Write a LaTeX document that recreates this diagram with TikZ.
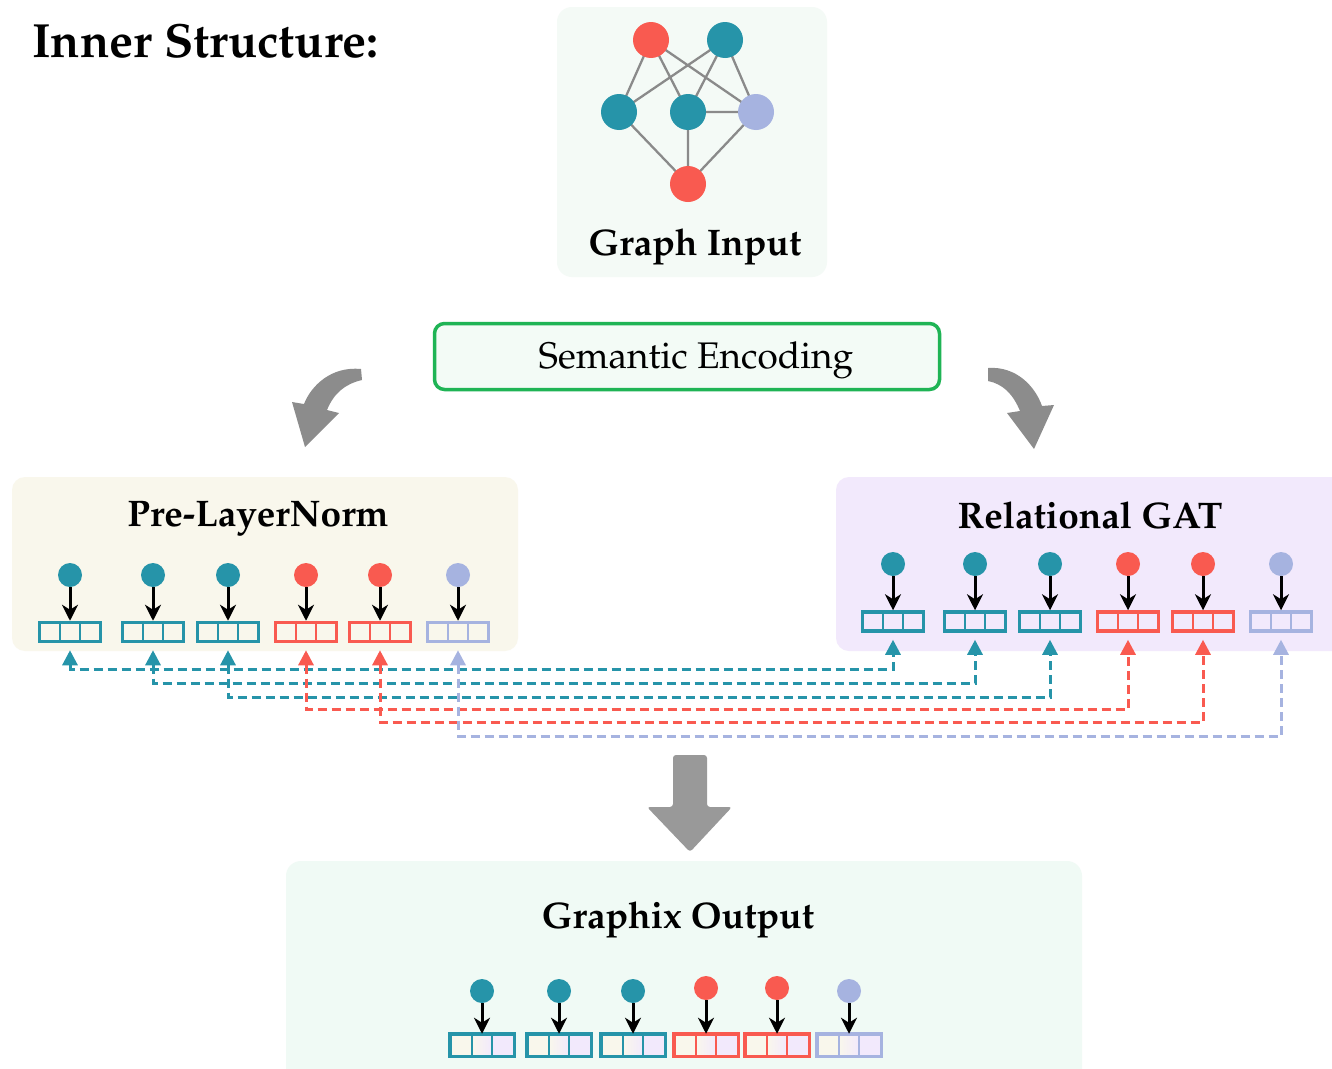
\documentclass[tikz,border=0pt]{standalone}
\usepackage[T1]{fontenc}
\usepackage{mathpazo}
\usetikzlibrary{arrows.meta}
\definecolor{cTeal}{HTML}{2694A9}
\definecolor{cRed}{HTML}{F95A50}
\definecolor{cLav}{HTML}{A6B3E0}
\definecolor{cEdge}{HTML}{8A8A8A}
\definecolor{cGraphFill}{HTML}{F4FAF6}
\definecolor{cSemFill}{HTML}{F3FBF6}
\definecolor{cGreen}{HTML}{1FB455}
\definecolor{cCream}{HTML}{F9F7EC}
\definecolor{cPurp}{HTML}{F2E9FC}
\definecolor{cOutFill}{HTML}{F0FAF5}
\definecolor{cGrayC}{HTML}{8C8C8C}
\definecolor{cGrayB}{HTML}{999999}
\newcommand\fsz[1]{\fontsize{#1}{#1}\selectfont}
\tikzset{
 dot/.style={circle, inner sep=0pt, minimum size=24pt},
 gdot/.style={circle, inner sep=0pt, minimum size=36pt},
 tbox/.style={rectangle, inner sep=0pt, minimum width=61pt, minimum height=19pt, line width=3.5pt},
 blk/.style={draw=black, line width=3pt, -{Stealth[length=16pt,width=16pt,inset=5pt]}},
 dsh/.style={line width=3pt, dash pattern=on 9pt off 5pt, {Triangle[length=15pt,width=15pt]}-{Triangle[length=15pt,width=15pt]}},
 gedge/.style={draw=cEdge, line width=2.3pt},
 ttl/.style={font=\bfseries\fsz{37}, anchor=base, inner sep=0pt},
 panel/.style={rectangle, inner sep=0pt, rounded corners=13pt},
 divl/.style={line width=2.5pt},
}
\newcommand\tok[5]{%
  \node[dot, fill=#5] (#1c) at (#2,#3) {};
  \node[tbox, draw=#5] (#1b) at (#2,#4) {};
  \draw[#5, divl] ([xshift=-10.17pt]#1b.north) -- ([xshift=-10.17pt]#1b.south)
        ([xshift=10.17pt]#1b.north) -- ([xshift=10.17pt]#1b.south);
  \draw[blk] (#1c) -- (#1b);
}
\newcommand\tokg[5]{%
  \node[dot, fill=#5] (#1c) at (#2,#3) {};
  \node[tbox] (#1b) at (#2,#4) {};
  \fill[cCream] (#1b.south west) rectangle ([xshift=-10.17pt]#1b.north);
  \shade[left color=cCream, right color=cPurp] ([xshift=-10.17pt]#1b.south) rectangle ([xshift=10.17pt]#1b.north);
  \fill[cPurp] ([xshift=10.17pt]#1b.south) rectangle (#1b.north east);
  \draw[#5, line width=3.5pt] (#1b.south west) rectangle (#1b.north east);
  \draw[#5, divl] ([xshift=-10.17pt]#1b.north) -- ([xshift=-10.17pt]#1b.south)
        ([xshift=10.17pt]#1b.north) -- ([xshift=10.17pt]#1b.south);
  \draw[blk] (#1c) -- (#1b);
}
\begin{document}
\begin{tikzpicture}[x=1pt,y=-1pt]
\useasboundingbox (0,0) rectangle (1332,1068);
\clip (0,0) rectangle (1332,1068);
\fill[white] (0,0) rectangle (1332,1068);

% title
\node[anchor=base west, inner sep=0pt, font=\bfseries\fsz{48}] (title) at (32,57) {Inner Structure:};

% graph input panel
\node[panel, fill=cGraphFill, rounded corners=15pt, minimum width=270pt, minimum height=270pt] (gpanel) at (692,142) {};
\coordinate (n1) at (651,40);
\coordinate (n2) at (725,40);
\coordinate (n3) at (619,112);
\coordinate (n4) at (688,112);
\coordinate (n5) at (756,112);
\coordinate (n6) at (688,184);
\draw[gedge] (n1) -- (n3) (n1) -- (n4) (n1) -- (n5)
             (n2) -- (n3) (n2) -- (n4) (n2) -- (n5)
             (n4) -- (n5) (n3) -- (n6) (n4) -- (n6)
             (n5) -- (n6);
\node[gdot, fill=cRed]  (v1) at (n1) {};
\node[gdot, fill=cTeal] (v2) at (n2) {};
\node[gdot, fill=cTeal] (v3) at (n3) {};
\node[gdot, fill=cTeal] (v4) at (n4) {};
\node[gdot, fill=cLav]  (v5) at (n5) {};
\node[gdot, fill=cRed]  (v6) at (n6) {};
\node[ttl] (gtitle) at (695,255) {Graph Input};

% semantic encoding
\node[panel, draw=cGreen, line width=3.5pt, fill=cSemFill, rounded corners=10pt, minimum width=505pt, minimum height=66pt] (sem) at (687,356.5) {};
\node[anchor=base, inner sep=0pt, font=\fsz{37}] (semtxt) at (696,368) {Semantic Encoding};

% curved arrows
\fill[cGrayC] (361,369) .. controls (331,366) and (311,386) .. (304,404)
   -- (292,402) -- (305,447) -- (339,413) -- (327,410)
   .. controls (334,393) and (345,384) .. (362,380) -- cycle;
\fill[cGrayC] (988,368) .. controls (1016,366) and (1035,386) .. (1042,406)
   -- (1054,405) -- (1034,449) -- (1007,413) -- (1020,411)
   .. controls (1013,394) and (1003,384) .. (988,381) -- cycle;

% panels
\node[panel, fill=cCream, minimum width=506pt, minimum height=174pt] (pre) at (265,564) {};
\node[panel, fill=cPurp, minimum width=509pt, minimum height=174pt] (gat) at (1090.5,564) {};
\node[ttl] (pretitle) at (258,526) {Pre-LayerNorm};
\node[ttl] (gattitle) at (1090,528) {Relational GAT};

% pre-layernorm tokens
\tok{p1}{70}{575}{632}{cTeal}
\tok{p2}{153}{575}{632}{cTeal}
\tok{p3}{228}{575}{632}{cTeal}
\tok{p4}{306}{575}{632}{cRed}
\tok{p5}{380}{575}{632}{cRed}
\tok{p6}{458}{575}{632}{cLav}

% GAT tokens
\tok{g1}{893}{564}{621.5}{cTeal}
\tok{g2}{975}{564}{621.5}{cTeal}
\tok{g3}{1050}{564}{621.5}{cTeal}
\tok{g4}{1128}{564}{621.5}{cRed}
\tok{g5}{1203}{564}{621.5}{cRed}
\tok{g6}{1281}{564}{621.5}{cLav}

% dashed connections
\draw[dsh, cTeal] ([yshift=-7pt]p1b.south) -- (p1b.south |- 0,669) -- (g1b.south |- 0,669) -- ([yshift=-7pt]g1b.south);
\draw[dsh, cTeal] ([yshift=-7pt]p2b.south) -- (p2b.south |- 0,683) -- (g2b.south |- 0,683) -- ([yshift=-7pt]g2b.south);
\draw[dsh, cTeal] ([yshift=-7pt]p3b.south) -- (p3b.south |- 0,697) -- (g3b.south |- 0,697) -- ([yshift=-7pt]g3b.south);
\draw[dsh, cRed]  ([yshift=-7pt]p4b.south) -- (p4b.south |- 0,709) -- (g4b.south |- 0,709) -- ([yshift=-7pt]g4b.south);
\draw[dsh, cRed]  ([yshift=-7pt]p5b.south) -- (p5b.south |- 0,722) -- (g5b.south |- 0,722) -- ([yshift=-7pt]g5b.south);
\draw[dsh, cLav]  ([yshift=-7pt]p6b.south) -- (p6b.south |- 0,736) -- (g6b.south |- 0,736) -- ([yshift=-7pt]g6b.south);

% big down arrow
\fill[cGrayB, rounded corners=3pt] (673,755) -- (707,755) -- (707,807) -- (732,807) -- (690,852) -- (647,807) -- (673,807) -- cycle;

% output panel
\node[panel, fill=cOutFill, rounded corners=15pt, minimum width=796pt, minimum height=229pt] (out) at (684,975.5) {};
\node[ttl] (outtitle) at (678,928) {Graphix Output};
\tokg{o1}{482}{991}{1045}{cTeal}
\tokg{o2}{559}{991}{1045}{cTeal}
\tokg{o3}{633}{991}{1045}{cTeal}
\tokg{o4}{706}{988}{1045}{cRed}
\tokg{o5}{777}{988}{1045}{cRed}
\tokg{o6}{849}{991}{1045}{cLav}
\end{tikzpicture}
\end{document}
